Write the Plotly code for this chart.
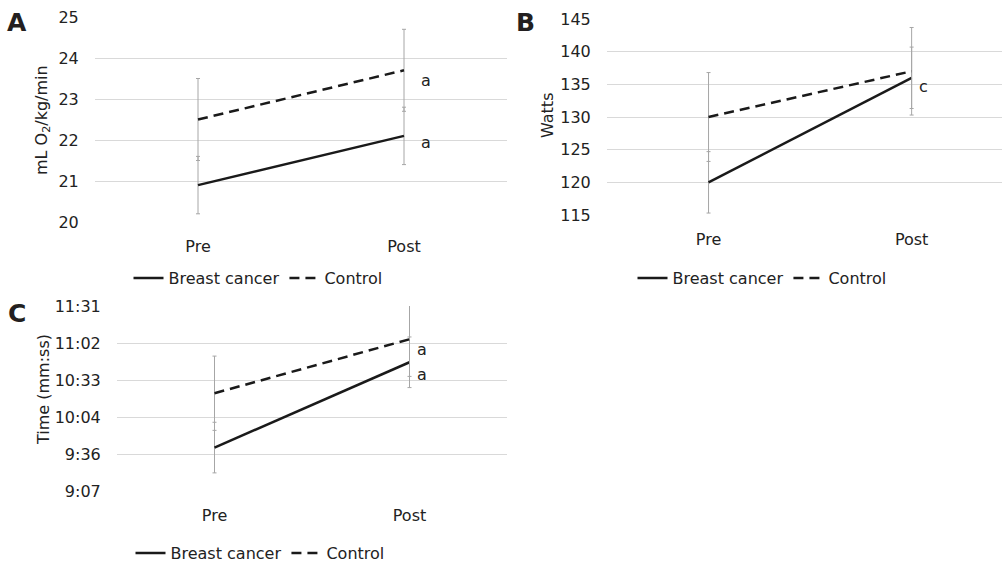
import plotly.graph_objects as go

categories = ["Pre", "Post"]

vo2_breast = [20.9, 22.1]
vo2_breast_err = [0.7, 0.7]
vo2_control = [22.5, 23.7]
vo2_control_err = [1.0, 1.0]
vo2_letters = ["a", "a"]
vo2_letter_y = [23.45, 21.95]
vo2_ticks = [20, 21, 22, 23, 24, 25]

watts_breast = [120, 136]
watts_breast_err = [4.7, 4.7]
watts_control = [130, 137]
watts_control_err = [6.8, 6.7]
watts_letters = ["c"]
watts_letter_y = [134.6]
watts_ticks = [115, 120, 125, 130, 135, 140, 145]

time_breast_s = [581, 647.4]
time_breast_err = [19.7, 19.7]
time_control_s = [623.3, 665.3]
time_control_err = [28.9, 28.9]
time_letters = ["a", "a"]
time_letter_y = [657.5, 638.0]
time_tickvals = [547.2, 576.0, 604.8, 633.6, 662.4, 691.2]
time_ticktext = ["9:07", "9:36", "10:04", "10:33", "11:02", "11:31"]

FONT = "DejaVu Sans"
W, H = 1002, 564
GRID = "#d9d9d9"
ERR = "#a6a6a6"
LINE = "#1a1a1a"
TXT = "#222222"


def px(x):
    return x / W


def py(y):
    return 1 - y / H


fig = go.Figure()

panels = [
    dict(ax="", legend="legend", b=vo2_breast, be=vo2_breast_err, c=vo2_control, ce=vo2_control_err),
    dict(ax="2", legend="legend2", b=watts_breast, be=watts_breast_err, c=watts_control, ce=watts_control_err),
    dict(ax="3", legend="legend3", b=time_breast_s, be=time_breast_err, c=time_control_s, ce=time_control_err),
]

for p in panels:
    fig.add_trace(go.Scatter(
        x=categories, y=p["b"], mode="lines", name="Breast cancer",
        line=dict(color=LINE, width=2.5),
        error_y=dict(type="data", array=p["be"], color=ERR, thickness=1, width=2),
        xaxis="x" + p["ax"], yaxis="y" + p["ax"], legend=p["legend"],
    ))
    fig.add_trace(go.Scatter(
        x=categories, y=p["c"], mode="lines", name="Control",
        line=dict(color=LINE, width=2.5, dash="10px,6px"),
        error_y=dict(type="data", array=p["ce"], color=ERR, thickness=1, width=2),
        xaxis="x" + p["ax"], yaxis="y" + p["ax"], legend=p["legend"],
    ))

xcommon = dict(type="category", showgrid=False, zeroline=False,
               showline=False, ticks="outside", ticklen=10, tickcolor="rgba(0,0,0,0)",
               tickfont=dict(family=FONT, size=16, color=TXT),
               automargin=False, fixedrange=True)
ycommon = dict(showgrid=True, gridcolor=GRID, gridwidth=1, zeroline=False, showline=False,
               ticks="outside", ticklen=12, tickcolor="rgba(0,0,0,0)",
               tickfont=dict(family=FONT, size=16, color=TXT),
               automargin=False, fixedrange=True)

fig.update_layout(
    width=W, height=H,
    margin=dict(l=0, r=0, t=0, b=0, autoexpand=False),
    paper_bgcolor="white", plot_bgcolor="white",
    font=dict(family=FONT, size=16, color=TXT),
    xaxis=dict(xcommon, domain=[px(95), px(507)], range=[-0.5, 1.5], anchor="y"),
    yaxis=dict(ycommon, domain=[py(222), py(17)], range=[20, 25], tickvals=vo2_ticks, anchor="x"),
    xaxis2=dict(xcommon, domain=[px(607), px(1002)], range=[-0.5, 1.445], anchor="y2"),
    yaxis2=dict(ycommon, domain=[py(215), py(19)], range=[115, 145], tickvals=watts_ticks, anchor="x2"),
    xaxis3=dict(xcommon, domain=[px(117), px(507)], range=[-0.5, 1.5], anchor="y3"),
    yaxis3=dict(ycommon, domain=[py(491), py(306)], range=[547.2, 691.2],
                tickvals=time_tickvals, ticktext=time_ticktext, anchor="x3"),
)

legend_common = dict(orientation="h", xanchor="center", yanchor="middle",
                     font=dict(family=FONT, size=16, color=TXT),
                     bgcolor="rgba(0,0,0,0)", itemwidth=30)
fig.update_layout(
    legend=dict(legend_common, x=px(258), y=py(278)),
    legend2=dict(legend_common, x=px(762), y=py(278)),
    legend3=dict(legend_common, x=px(260), y=py(553)),
)

ann_font = dict(family=FONT, size=16, color=TXT)
annotations = []
for txt, yv in zip(vo2_letters, vo2_letter_y):
    annotations.append(dict(x="Post", y=yv, xref="x", yref="y", text=txt, showarrow=False,
                            xshift=22, font=ann_font))
for txt, yv in zip(watts_letters, watts_letter_y):
    annotations.append(dict(x="Post", y=yv, xref="x2", yref="y2", text=txt, showarrow=False,
                            xshift=12, font=ann_font))
for txt, yv in zip(time_letters, time_letter_y):
    annotations.append(dict(x="Post", y=yv, xref="x3", yref="y3", text=txt, showarrow=False,
                            xshift=12, font=ann_font))

# axis titles
for text, (tx, ty) in zip(["mL O<sub>2</sub>/kg/min", "Watts", "Time (mm:ss)"],
                          [(43, 120), (548, 116), (43, 390)]):
    annotations.append(dict(x=px(tx), y=py(ty), xref="paper", yref="paper", text=text,
                            textangle=-90, showarrow=False, xanchor="center", yanchor="middle",
                            font=ann_font))

# panel letters
for letter, (lx, ly) in zip(["A", "B", "C"], [(17, 23), (525, 22), (17, 313)]):
    annotations.append(dict(x=px(lx), y=py(ly), xref="paper", yref="paper",
                            text="<b>" + letter + "</b>", showarrow=False,
                            xanchor="center", yanchor="middle",
                            font=dict(family=FONT, size=25, color="#231f20")))

fig.update_layout(annotations=annotations)

fig.write_html("out.html", config={"displayModeBar": False},
               post_script="document.body.style.margin='0';document.body.style.overflow='hidden';")
